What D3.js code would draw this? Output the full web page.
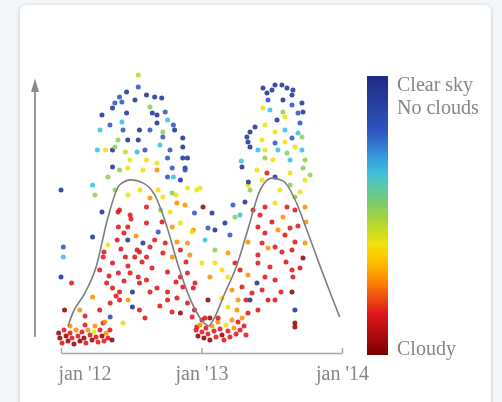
<!DOCTYPE html>
<html><head><meta charset="utf-8">
<script src="https://cdn.jsdelivr.net/npm/d3@7"></script>
<style>
html,body{margin:0;padding:0;background:#f3f7fa;width:502px;height:402px;overflow:hidden;}
#card{position:absolute;left:20px;top:5px;width:471px;height:420px;background:#fff;border-radius:6px;box-shadow:0 1px 4px rgba(0,0,0,0.22);}
svg{position:absolute;left:0;top:0;filter:blur(0.7px);}
</style></head>
<body><div id="card"></div><svg id="c" width="502" height="402"></svg>
<script>
// x in months since Jan 2012, y = height value, c = sky clearness (0 cloudy .. 1 clear)
const tickMonths = [0, 12, 24];
const tickLabels = ["jan '12", "jan '13", "jan '14"];
const legendTop = ["Clear sky", "No clouds"];
const legendBottom = "Cloudy";
const curveMonths = [0.6,1,2,3,4,5,6,7,8,9,10,11,12,12.6,13,14,15,16,17,18,19,20,21,22,23,23.8];
const curveValues = [8,12.3,18.7,27.7,44,55,56.7,55.7,51.7,41.7,28.3,17.3,10,8,10,19,28,40.7,53.3,57.3,56.3,50,40,29.3,19,11];
const ptMonth = [6.6,6.6,5.6,5.0,7.3,8.0,8.6,4.6,5.2,4.4,7.6,3.5,5.6,7.8,8.2,8.2,8.9,5.2,9.1,9.6,9.7,6.7,7.6,5.3,8.7,5.7,6.6,8.7,10.4,10.4,3.1,3.8,4.4,5.5,6.5,4.6,9.1,10.8,7.3,8.2,4.4,5.0,5.7,9.5,10.6,7.0,8.2,4.0,9.1,9.6,10.2,0.0,2.7,2.9,8.3,8.7,9.5,10.8,11.6,3.5,5.0,5.9,7.3,8.5,9.9,11.4,4.9,5.7,7.3,8.3,9.5,10.2,11.3,2.7,4.0,4.8,5.7,6.5,7.0,8.0,8.9,9.9,10.8,0.2,0.2,3.6,4.4,5.5,6.3,6.7,7.3,8.7,9.5,10.2,11.0,0.0,0.9,3.3,4.9,5.9,6.6,7.3,9.1,10.2,10.8,3.9,4.4,5.0,6.1,6.7,8.2,9.1,10.4,11.3,2.7,4.2,5.0,6.1,6.7,9.1,9.9,10.8,11.4,0.3,1.6,3.3,4.2,5.3,10.2,11.2,11.6,
-0.2,-0.1,0.09,0.26,0.43,0.6,0.77,0.94,1.11,1.28,1.45,1.62,1.79,1.96,2.13,2.31,2.48,2.65,2.82,2.99,3.16,3.33,3.5,3.67,3.84,4.01,4.18,0.77,2.05,2.9,3.59,4.36,
11.53,11.7,11.87,12.04,12.21,12.38,12.55,12.72,12.9,13.07,13.24,13.41,13.58,13.75,13.92,14.09,14.26,14.43,14.6,14.77,14.95,15.12,15.29,15.46,15.63,15.8,12.04,12.72,
17.25,18.02,17.59,18.87,19.3,19.81,19.73,18.28,20.58,19.73,17.25,17.85,18.96,19.13,18.45,20.24,20.41,16.57,16.14,17.42,18.28,19.13,20.24,15.88,15.97,16.14,17.17,19.73,20.58,18.28,19.13,19.98,17.42,18.53,19.3,20.58,17.42,20.84,15.46,16.74,17.59,19.56,20.67,18.28,15.97,20.84,19.98,11.87,12.13,12.9,14.69,15.71,14.0,12.55,13.15,14.86,16.4,17.42,18.28,19.3,18.96,19.98,20.84,16.82,17.42,18.53,19.56,17.17,18.28,18.87,19.73,19.98,20.84,20.67,12.04,13.15,14.26,14.86,16.82,17.85,19.73,12.72,14.26,15.97,17.42,18.28,19.81,15.46,16.74,11.44,19.73,16.31,17.68,18.28,16.14,15.12,12.55,19.98,14.26,15.03,15.97,19.98,19.98,12.3,13.41,10.4,10.6,15.4,16.0,
4.87,5.98,5.38,6.41,7.6,3.67,5.12,6.92,5.72,7.77,4.1,5.38,7.6,4.7,5.72,8.45,9.48,7.17,3.76,2.05,9.82,10.68,11.19,8.63,9.31,9.82,10.59,6.75,5.72,7.6,4.61,5.89,4.87,7.17,8.45,9.31,6.32,4.18,3.33,
17.0,18.02,19.13,20.24,17.68,19.22,20.41,16.82,15.97,15.29,17.17,18.79,15.8,16.82,14.6,13.75,13.75,13.15,12.3,14.43,15.29,16.14,17.17,18.7,19.56,20.41,18.1,16.82,19.56,18.96,17.68,20.67,21.27,20.92];
const ptValue = [91.7,87.7,86,84.3,85,84.3,84,82.3,82.7,80.7,81,78.3,79,79,78.3,75.7,79.3,76,76.7,75,73.3,73.3,73.3,73.3,72.7,70,70,71,70.7,67.7,66.7,66.7,66.7,66,66,67.7,64,64,63.3,62.3,61,60,60.7,60.7,60.7,60,60,57.7,57.7,57.7,56.7,53.3,55,51.7,53.3,51,52.3,54,53.3,46,46.7,45,47.7,46.7,49,45.7,41,41,42.3,39.3,41,42.3,40,37.7,35,36.7,36.7,33.3,35.7,36.7,35.7,36,35.7,34.3,31,31,29,31,31,32.7,31,32.3,31,33.3,31.7,24.3,22.3,26.7,25.7,25.7,24.3,23.3,26,24.3,25.7,22.3,20.7,19.3,19.3,22.3,20.7,19.3,21,20.7,17.7,15.7,16.7,14.3,13.3,16.7,17.3,15.7,13.3,13.3,13.3,13.3,11,9,12.3,11,7.7,
5.7,4,2.3,6.7,4.7,3,5.7,4,2,6.7,4.7,3,6,4,2.3,6.7,5,3.3,6,4.3,2.7,6.7,4.7,3,5.7,4,6.7,8,8.3,8,9,3.3,
6.7,4.7,8.3,6,4,7.3,5.3,3.3,8,6.3,4.3,9.3,7,5,3.3,8.3,6.3,4.3,10,7.3,5.3,9.3,6.7,10.7,8,5,10,10.7,
87.3,86.7,85.7,88.3,87.3,86.7,85,88.3,82.3,81.7,80.7,80,79.3,77.7,76.7,79,75.7,74.3,72.7,75,72.7,73.3,72.3,71,69.3,67.7,70,70.7,71,69,69.3,67.7,66.7,66.7,65.7,66.7,64,63.3,61,60,59,59,60.7,57.7,55,56.7,51,54,47.7,45.7,48.3,49.3,42.3,40.7,40,44.3,46.7,47.7,49,47.7,44.3,46.7,47.7,41,39,40,40.7,35.7,34.3,32.7,33.3,36,35.7,30.7,29,29,32.3,29,29,27.7,26.7,24.3,24.3,25,24.3,23.3,24.3,21,22.3,22.3,19.3,19,16.7,16.7,16.7,16.7,16.7,13.3,14.3,13.3,12.3,9,7.7,10.7,10.7,64,60,63,56,
46,43.7,39,38,34.3,32.7,33.7,29.3,28,27.3,24.7,23,19.3,18,16.7,14.7,12.7,10.7,9.3,11.3,22.7,29.3,39.3,42.7,46,51.7,48.3,53.3,51.7,50.7,53.3,63.3,70,66.7,68.3,66.7,83.3,75,73.3,
45,42.7,38.3,41.3,34,29.3,27.3,31.7,36,26.7,20,19.3,16.7,13.3,20,17.3,26.7,33.3,36.7,38.3,45,53.3,56.7,53.3,55,52.7,63.3,66.7,63.3,83.3,83.3,79.3,58.3,42.7];
const ptCloud = [.45,.8,.95,.8,.95,.95,.95,.8,.8,.95,.52,.95,.95,.95,.95,.95,.8,.66,.66,.8,.95,.95,.8,.8,.52,.95,.95,.8,.95,.95,.66,.4,.95,.45,.66,.52,.8,.95,.4,.4,.95,.52,.4,.8,.95,.4,.28,.52,.8,.66,.95,.95,.66,.52,.4,.4,.52,.4,.4,.95,.15,.15,.15,.52,.28,.8,.15,.15,.15,.8,.28,.4,.28,.95,.4,.15,.95,.15,.95,.15,.15,.28,.28,.8,.66,.15,.15,.15,.15,.15,.15,.15,.28,.15,.28,.95,.15,.15,.15,.15,.15,.15,.15,.15,.15,.15,.15,.15,.95,.15,.15,.15,.15,.15,.28,.15,.15,.95,.15,.15,.15,.15,.15,.04,.28,.15,.85,.42,.04,.15,.15,
.04,.04,.15,.15,.04,.04,.15,.15,.04,.28,.15,.04,.15,.04,.15,.28,.15,.04,.4,.15,.15,.15,.04,.15,.28,.15,.15,.28,.15,.28,.15,.04,
.15,.04,.28,.15,.04,.15,.15,.04,.28,.15,.15,.28,.15,.04,.15,.4,.15,.15,.28,.28,.15,.15,.15,.28,.15,.15,.15,.04,
.95,.95,.95,.95,.95,.95,.95,.95,.95,.8,.4,.66,.52,.4,.95,.8,.8,.95,.95,.4,.4,.66,.66,.95,.95,.95,.4,.8,.52,.8,.4,.4,.4,.66,.52,.66,.52,.52,.95,.4,.15,.4,.52,.95,.4,.4,.52,.4,.04,.95,.8,.95,.95,.8,.95,.52,.15,.15,.4,.15,.28,.15,.28,.15,.15,.28,.15,.15,.15,.15,.15,.15,.28,.04,.4,.4,.28,.15,.15,.15,.15,.28,.4,.28,.15,.15,.15,.15,.95,.15,.04,.15,.15,.15,.95,.28,.04,.95,.4,.28,.15,.04,.04,.15,.15,.95,.8,.66,.95,
.15,.15,.15,.28,.15,.15,.15,.15,.15,.15,.15,.15,.15,.15,.28,.15,.15,.15,.28,.15,.15,.15,.4,.15,.4,.4,.28,.4,.4,.28,.52,.4,.52,.8,.66,.8,.95,.8,.66,
.15,.15,.15,.15,.28,.15,.15,.15,.28,.15,.15,.15,.15,.15,.28,.4,.4,.52,.66,.8,.66,.52,.4,.4,.52,.4,.4,.66,.66,.95,.8,.95,.52,.28];

const svg = d3.select("#c");
const x = d3.scaleLinear().domain([0, 24]).range([61, 342]);
const y = d3.scaleLinear().domain([0, 90]).range([350, 80]);
const col = d3.scaleLinear()
  .domain([0, .15, .27, .38, .52, .66, .8, 1])
  .range(["#7a0000","#e0181c","#ff8a00","#ffe400","#8cd04e","#38c0e8","#2f55c2","#1c2a84"]);
const textCol = "#858585";
const fontF = "'Liberation Serif','Times New Roman',serif";

// y axis with arrow
const yax = svg.append("g");
yax.append("line").attr("x1", 35).attr("x2", 35).attr("y1", y(4.3)).attr("y2", y(88))
  .attr("stroke", "#9a9a9a").attr("stroke-width", 2);
yax.append("path").attr("d", `M31,${y(86)} L35,${y(90.5)} L39,${y(86)} Z`).attr("fill", "#8a8a8a");

// x axis
const xAxis = d3.axisBottom(x).tickValues(tickMonths).tickSize(-5).tickSizeOuter(0)
  .tickFormat((d, i) => tickLabels[i]);
const xg = svg.append("g").attr("transform", "translate(0,353)").call(xAxis);
xg.select(".domain").attr("stroke", "#a8a8a8").attr("stroke-width", 1.5);
xg.selectAll(".tick line").attr("stroke", "#a8a8a8").attr("stroke-width", 1.5);
xg.selectAll(".tick text").attr("fill", textCol).attr("font-family", fontF).attr("font-size", 20)
  .attr("dy", null).attr("y", 27)
  .attr("text-anchor", (d, i) => i === 0 ? "start" : "middle")
  .attr("x", (d, i) => i === 0 ? -3 : 0);

// scatter
const pts = ptMonth.map((m, i) => ({m, v: ptValue[i], c: ptCloud[i]}));
svg.append("g").selectAll("circle").data(pts).join("circle")
  .attr("cx", d => x(d.m)).attr("cy", d => y(d.v)).attr("r", 2.5)
  .attr("fill", d => col(d.c)).attr("opacity", 0.88);

// curve
const line = d3.line().x(d => x(d[0])).y(d => y(d[1])).curve(d3.curveMonotoneX);
svg.append("path").datum(curveMonths.map((m, i) => [m, curveValues[i]]))
  .attr("d", line).attr("fill", "none").attr("stroke", "#7d7d7d").attr("stroke-width", 1.6);

// colour bar
const defs = svg.append("defs");
const grad = defs.append("linearGradient").attr("id", "cb").attr("x1", 0).attr("y1", 1).attr("x2", 0).attr("y2", 0);
d3.range(0, 1.0001, 0.05).forEach(t => grad.append("stop").attr("offset", t).attr("stop-color", col(t)));
svg.append("rect").attr("x", 367).attr("y", 76).attr("width", 21).attr("height", 279).attr("fill", "url(#cb)");
const lg = svg.append("g").attr("font-family", fontF).attr("font-size", 20).attr("fill", textCol);
legendTop.forEach((t, i) => lg.append("text").attr("x", 397).attr("y", 91 + i * 23).text(t));
lg.append("text").attr("x", 397).attr("y", 355).text(legendBottom);
</script></body></html>
